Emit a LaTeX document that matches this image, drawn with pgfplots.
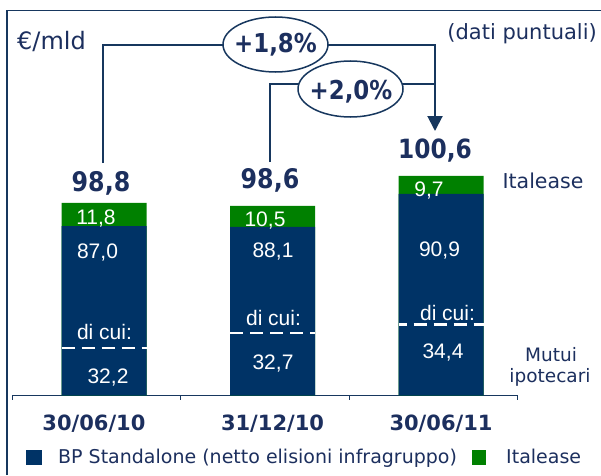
\documentclass[border=0pt]{standalone}
\usepackage{pgfplots}
\pgfplotsset{compat=1.18}
\usepackage{pgfplotstable}
\usepackage{fontspec}
\setmainfont{DejaVu Sans}
\newfontfamily\condfont{DejaVu Sans}[FakeStretch=0.88]
\newfontfamily\arialfont{Liberation Sans}
\usetikzlibrary{arrows.meta}
\definecolor{barnavy}{HTML}{003366}
\definecolor{txtnavy}{HTML}{1C2F5E}
\definecolor{linenavy}{HTML}{17375E}
\definecolor{itgreen}{HTML}{008000}
\newcommand\fs[1]{\fontsize{#1}{#1}\selectfont}

% x: category index; tot: total (Italease top); bpdraw: drawn top of BP segment;
% mutuidraw: drawn level of the "di cui" dashed line
\pgfplotstableread{
x tot   bpdraw mutuidraw
0 98.8  97.26  89.13
1 98.6  97.20  90.13
2 100.6 99.40  90.71
}\data

\begin{document}
\begin{tikzpicture}[x=1pt,y=1pt]
\useasboundingbox (0,0) rectangle (601,475);
% frame
\draw[linenavy, line width=1.5pt] (7,0) -- (7,464.5) -- (601,464.5);

\begin{axis}[
  at={(12pt,79.3pt)}, anchor=south west,
  x=168.5pt, y=15pt,
  xmin=-0.546, xmax=2.454, ymin=85.95, ymax=111.6,
  enlargelimits=false,
  axis x line*=bottom, axis y line=none,
  x axis line style={-, draw=linenavy, line width=1pt},
  ytick=\empty,
  xtick={-0.546,0.454,1.454,2.454}, xticklabels={},
  tick align=outside, major tick length=4pt,
  tick style={draw=linenavy, line width=1pt},
  extra x ticks={-0.06,1,2},
  extra x tick labels={30/06/10,31/12/10,30/06/11},
  extra x tick style={major tick length=0pt,
    tick label style={font=\bfseries\fs{21}, text=txtnavy, anchor=base, yshift=-35pt}},
]
\addplot[ybar, bar width=85pt, bar shift=0pt, fill=itgreen, draw=none] table[x=x,y=tot] {\data};
\addplot[ybar, bar width=85pt, bar shift=0pt, fill=barnavy, draw=none] table[x=x,y=bpdraw] {\data};
\addplot[white, line width=2.7pt, dash pattern=on 13pt off 7pt] coordinates {(-0.2522,89.13) (0.2522,89.13)};
\addplot[white, line width=2.7pt, dash pattern=on 13pt off 7pt] coordinates {(0.7478,90.13) (1.2522,90.13)};
\addplot[white, line width=2.7pt, dash pattern=on 13pt off 7pt, dash phase=5pt] coordinates {(1.7478,90.71) (2.2522,90.71)};
\end{axis}

% connectors
\draw[linenavy, line width=2pt] (103,312) -- (103,430) -- (225,430);
\draw[linenavy, line width=2pt, -{Triangle[width=15pt,length=15pt]}] (326,430) -- (435,430) -- (435,344);
\draw[linenavy, line width=2pt] (270,313) -- (270,391) -- (300,391);
\draw[linenavy, line width=2pt] (401,391) -- (435,391);
\draw[linenavy, line width=1.5pt, fill=white] (275.5,430.5) ellipse [x radius=52.5, y radius=27.5];
\draw[linenavy, line width=1.5pt, fill=white] (350.5,386) ellipse [x radius=52.5, y radius=28];

\begin{scope}[every node/.style={inner sep=0pt, text=txtnavy}]
\node[anchor=base west] at (17,425) {\fs{24}€/mld};
\node[anchor=base east] at (597,435) {\fs{21}(dati puntuali)};
\node[anchor=base] at (275.5,422.3) {\condfont\bfseries\fs{26}+1,8\%};
\node[anchor=base] at (351,375.7) {\condfont\bfseries\fs{26}+2,0\%};
\node[anchor=base] at (101,283.3) {\condfont\bfseries\fs{27}98,8};
\node[anchor=base] at (270,286.7) {\condfont\bfseries\fs{27}98,6};
\node[anchor=base] at (435,316.7) {\condfont\bfseries\fs{26.5}100,6};
% right labels
\node[anchor=base] at (543,287) {\fs{20.5}Italease};
\node[anchor=base] at (551,113.3) {\fs{18.5}Mutui};
\node[anchor=base] at (550,92.5) {\fs{18.5}ipotecari};
\end{scope}

% labels inside bars
\begin{scope}[every node/.style={inner sep=0pt, text=white, anchor=base, font=\arialfont\fs{21}}]
\node at (96,251) {11,8};
\node at (97.5,217) {87,0};
\node at (104.5,136) {di cui:};
\node at (108,92) {32,2};
\node at (265,248.5) {10,5};
\node at (273,218) {88,1};
\node at (273.5,150) {di cui:};
\node at (273,106) {32,7};
\node at (429,279) {9,7};
\node at (439.5,218.3) {90,9};
\node at (447.5,155) {di cui:};
\node at (443,117) {34,4};
\end{scope}

% legend
\fill[barnavy] (26,10) rectangle (42,25);
\node[anchor=base west, inner sep=0pt, text=txtnavy] at (58,11.7) {\fs{19}BP Standalone (netto elisioni infragruppo)};
\fill[itgreen] (472,10) rectangle (486,25);
\node[anchor=base west, inner sep=0pt, text=txtnavy] at (506,11.7) {\fs{19}Italease};
\end{tikzpicture}
\end{document}
